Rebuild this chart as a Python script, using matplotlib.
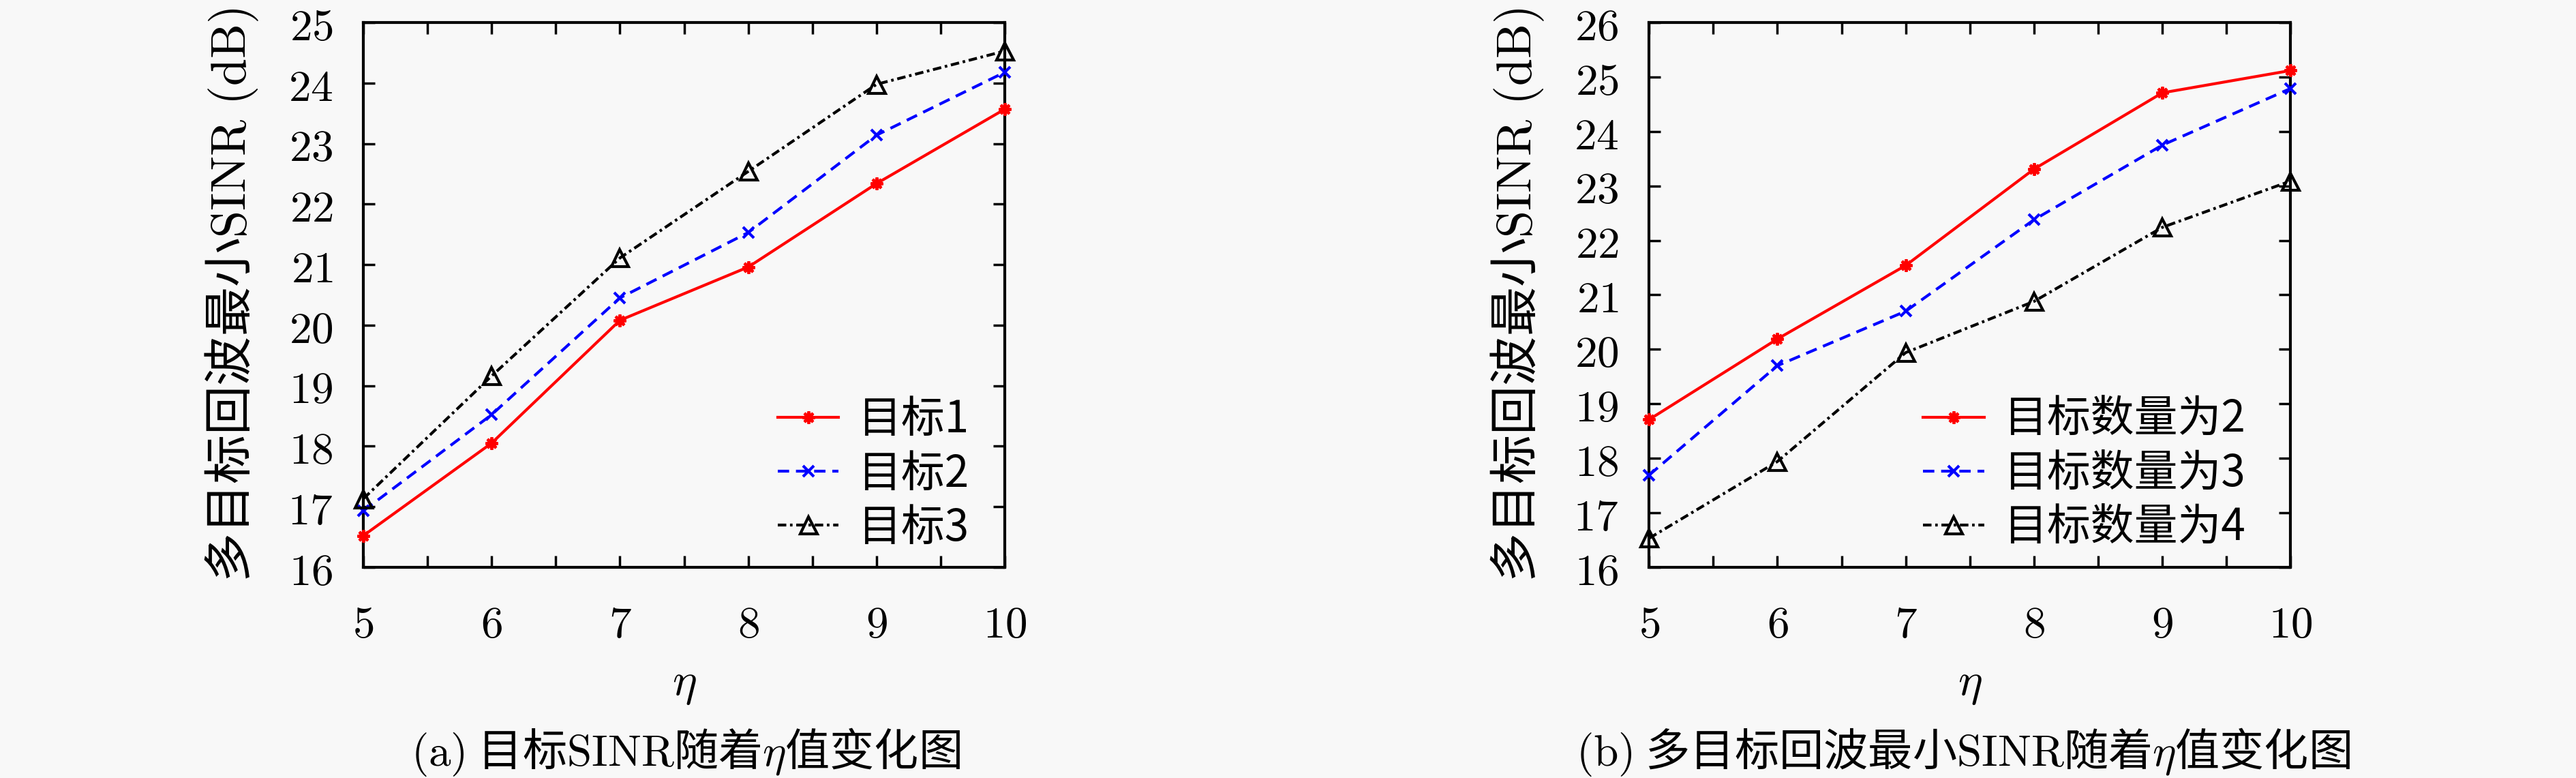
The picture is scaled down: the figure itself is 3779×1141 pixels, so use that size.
import matplotlib
matplotlib.use("Agg")
import matplotlib.pyplot as plt
from matplotlib.ticker import MultipleLocator, FuncFormatter

plt.rcParams['font.family'] = ['Noto Sans CJK SC', 'DejaVu Sans']
plt.rcParams['mathtext.fontset'] = 'cm'

# data
eta = [5, 6, 7, 8, 9, 10]

# (a) per target
sinr_t1 = [16.52, 18.05, 20.08, 20.96, 22.34, 23.57]
sinr_t2 = [16.93, 18.52, 20.45, 21.53, 23.14, 24.18]
sinr_t3 = [17.13, 19.16, 21.11, 22.54, 23.98, 24.53]
labels_a = ["目标1", "目标2", "目标3"]

# (b) per number of targets
sinr_n2 = [18.71, 20.19, 21.54, 23.31, 24.71, 25.12]
sinr_n3 = [17.69, 19.70, 20.70, 22.38, 23.75, 24.79]
sinr_n4 = [16.53, 17.94, 19.94, 20.88, 22.24, 23.09]
labels_b = ["目标数量为2", "目标数量为3", "目标数量为4"]

ylabel = "多目标回波最小$\\mathrm{SINR\\ (dB)}$"
caption_a = "$\\mathrm{(a)}$ 目标$\\mathrm{SINR}$随着$\\eta$值变化图"
caption_b = "$\\mathrm{(b)}$ 多目标回波最小$\\mathrm{SINR}$随着$\\eta$值变化图"

FS = 47
BG = "#f8f8f8"
styles = [
    dict(color="#ff0000", ls="-", marker=(8, 2, 0), ms=13, mew=3),
    dict(color="#0000ff", ls=(0, (4, 2.4)), marker="x", ms=11, mew=3),
    dict(color="black", ls=(0, (3, 1.3, 0.9, 1.3)), marker="^", ms=18,
         mfc="none", mew=3),
]


def math_fmt(v, pos):
    return "$%d$" % round(v)


def panel(ax, series, labels, ylim, leg_x):
    for ys, lab, st in zip(series, labels, styles):
        ax.plot(eta, ys, label=lab, lw=3, clip_on=False, zorder=3, **st)
    ax.set_xlim(5, 10)
    ax.set_ylim(*ylim)
    ax.set_facecolor(BG)
    ax.xaxis.set_major_locator(MultipleLocator(1))
    ax.xaxis.set_minor_locator(MultipleLocator(0.5))
    ax.yaxis.set_major_locator(MultipleLocator(1))
    ax.xaxis.set_major_formatter(FuncFormatter(math_fmt))
    ax.yaxis.set_major_formatter(FuncFormatter(math_fmt))
    ax.tick_params(which="both", direction="in", top=True, right=True,
                   length=12, width=2.5)
    ax.tick_params(axis="x", which="major", pad=37, labelsize=FS)
    ax.tick_params(axis="y", which="major", pad=32, labelsize=FS)
    for sp in ax.spines.values():
        sp.set_linewidth(3)
    ax.set_xlabel("$\\eta$", fontsize=FS + 2, va="center")
    ax.xaxis.set_label_coords(0.5, -0.212)
    ax.set_ylabel(ylabel, fontsize=52, va="center")
    ax.yaxis.set_label_coords(-0.205, 0.5)
    ax.legend(loc="lower right", bbox_to_anchor=(leg_x, 0.03), frameon=False,
              fontsize=46, handlelength=1.4, handletextpad=0.45,
              labelspacing=0.2, borderpad=0, borderaxespad=0)


fig = plt.figure(figsize=(37.8, 11.41), dpi=100, facecolor=BG)
ax1 = fig.add_axes([0.141, 0.271, 0.249, 0.700])
ax2 = fig.add_axes([0.640, 0.271, 0.249, 0.700])

panel(ax1, [sinr_t1, sinr_t2, sinr_t3], labels_a, (16, 25), 0.945)
panel(ax2, [sinr_n2, sinr_n3, sinr_n4], labels_b, (16, 26), 0.93)

fig.text(0.266, 0.033, caption_a, fontsize=FS, ha="center", va="center")
fig.text(0.762, 0.033, caption_b, fontsize=FS, ha="center", va="center")

fig.savefig("out.png", dpi=100, facecolor=BG)
